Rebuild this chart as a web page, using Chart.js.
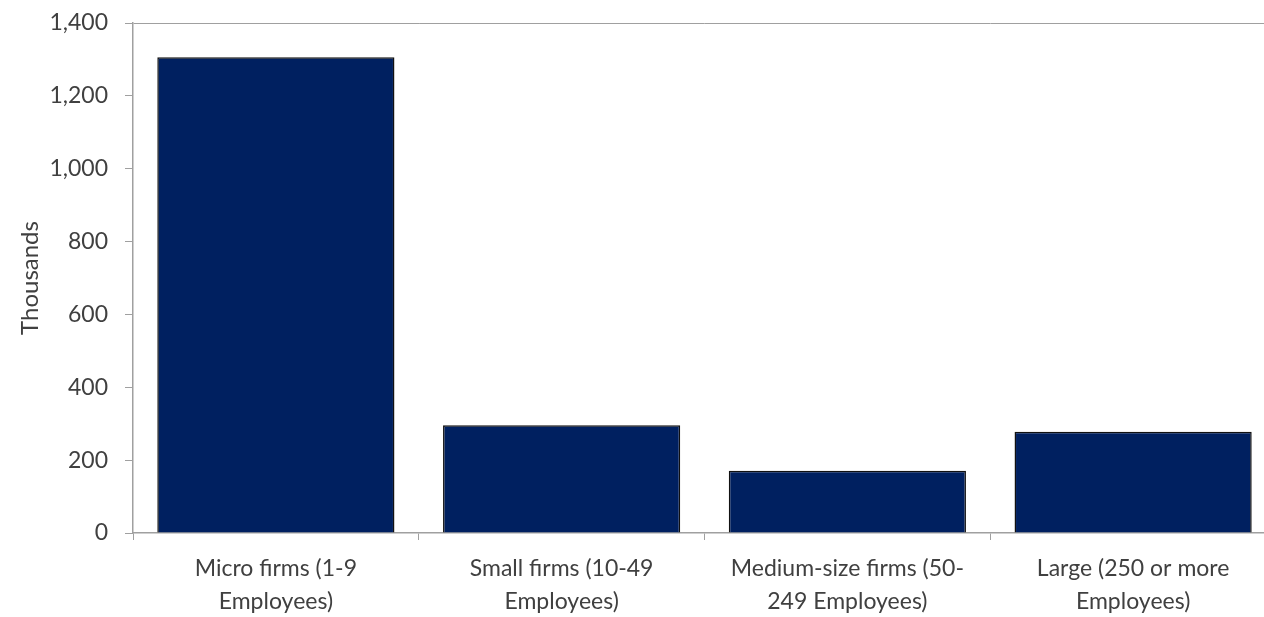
<!DOCTYPE html>
<html>
<head>
<meta charset="utf-8">
<script src="https://cdn.jsdelivr.net/npm/chart.js@4/dist/chart.umd.min.js"></script>
<style>
  html, body { margin: 0; padding: 0; background: #fff; overflow: hidden; }
  #wrap { width: 1276px; height: 617px; }
</style>
</head>
<body>
<div id="wrap"><canvas id="chart"></canvas></div>
<script>
// data (thousands of firms)
const categories = [
    ['Micro firms (1-9', 'Employees)'],
    ['Small firms (10-49', 'Employees)'],
    ['Medium-size firms (50-', '249 Employees)'],
    ['Large (250 or more', 'Employees)']
];
const firmCounts = [1306, 296, 171, 278];
const yTicks = [0, 200, 400, 600, 800, 1000, 1200, 1400];

const axisGrey = '#a0a0a0';
const textGrey = '#404040';
const font = { family: 'Lato, "Open Sans", sans-serif', size: 23, lineHeight: 1.45 };

let ctx = document.getElementById('chart').getContext('2d');
new Chart(ctx, {
    type: 'bar',
    data: {
        labels: categories,
        datasets: [{
            data: firmCounts,
            backgroundColor: '#002060',
            borderColor: '#111111',
            borderWidth: 1.5,
            barPercentage: 0.83,
            categoryPercentage: 1
        }]
    },
    options: {
        responsive: true,
        maintainAspectRatio: false,
        animation: false,
        layout: { padding: { top: 23, right: 0, left: 0, bottom: 0 } },
        plugins: {
            legend: { display: false },
            tooltip: { enabled: false }
        },
        scales: {
            x: {
                offset: true,
                grid: {
                    offset: true,
                    drawOnChartArea: false,
                    color: axisGrey,
                    tickLength: 7
                },
                border: { color: axisGrey, width: 1.5 },
                ticks: { color: textGrey, font: font, maxRotation: 0, padding: 12 },
                afterFit: s => { s.height = 84; }
            },
            y: {
                min: 0,
                max: 1400,
                afterBuildTicks: s => { s.ticks = yTicks.map(v => ({ value: v })); },
                grid: {
                    // only the top line of the plot area is drawn across
                    color: c => (c.tick && c.tick.value === 1400) ? axisGrey : 'rgba(0,0,0,0)',
                    tickColor: axisGrey,
                    tickLength: 8
                },
                border: { color: axisGrey, width: 1.5 },
                ticks: {
                    color: textGrey,
                    font: { family: font.family, size: 23 },
                    padding: 17,
                    callback: v => v.toLocaleString('en-US')
                },
                title: {
                    display: true,
                    text: 'Thousands',
                    color: textGrey,
                    font: { family: font.family, size: 24 },
                    padding: { top: 16, bottom: 0 }
                },
                afterFit: s => { s.width = 133; s.paddingTop = 0; s.paddingBottom = 0; }
            }
        }
    }
});
</script>
</body>
</html>
